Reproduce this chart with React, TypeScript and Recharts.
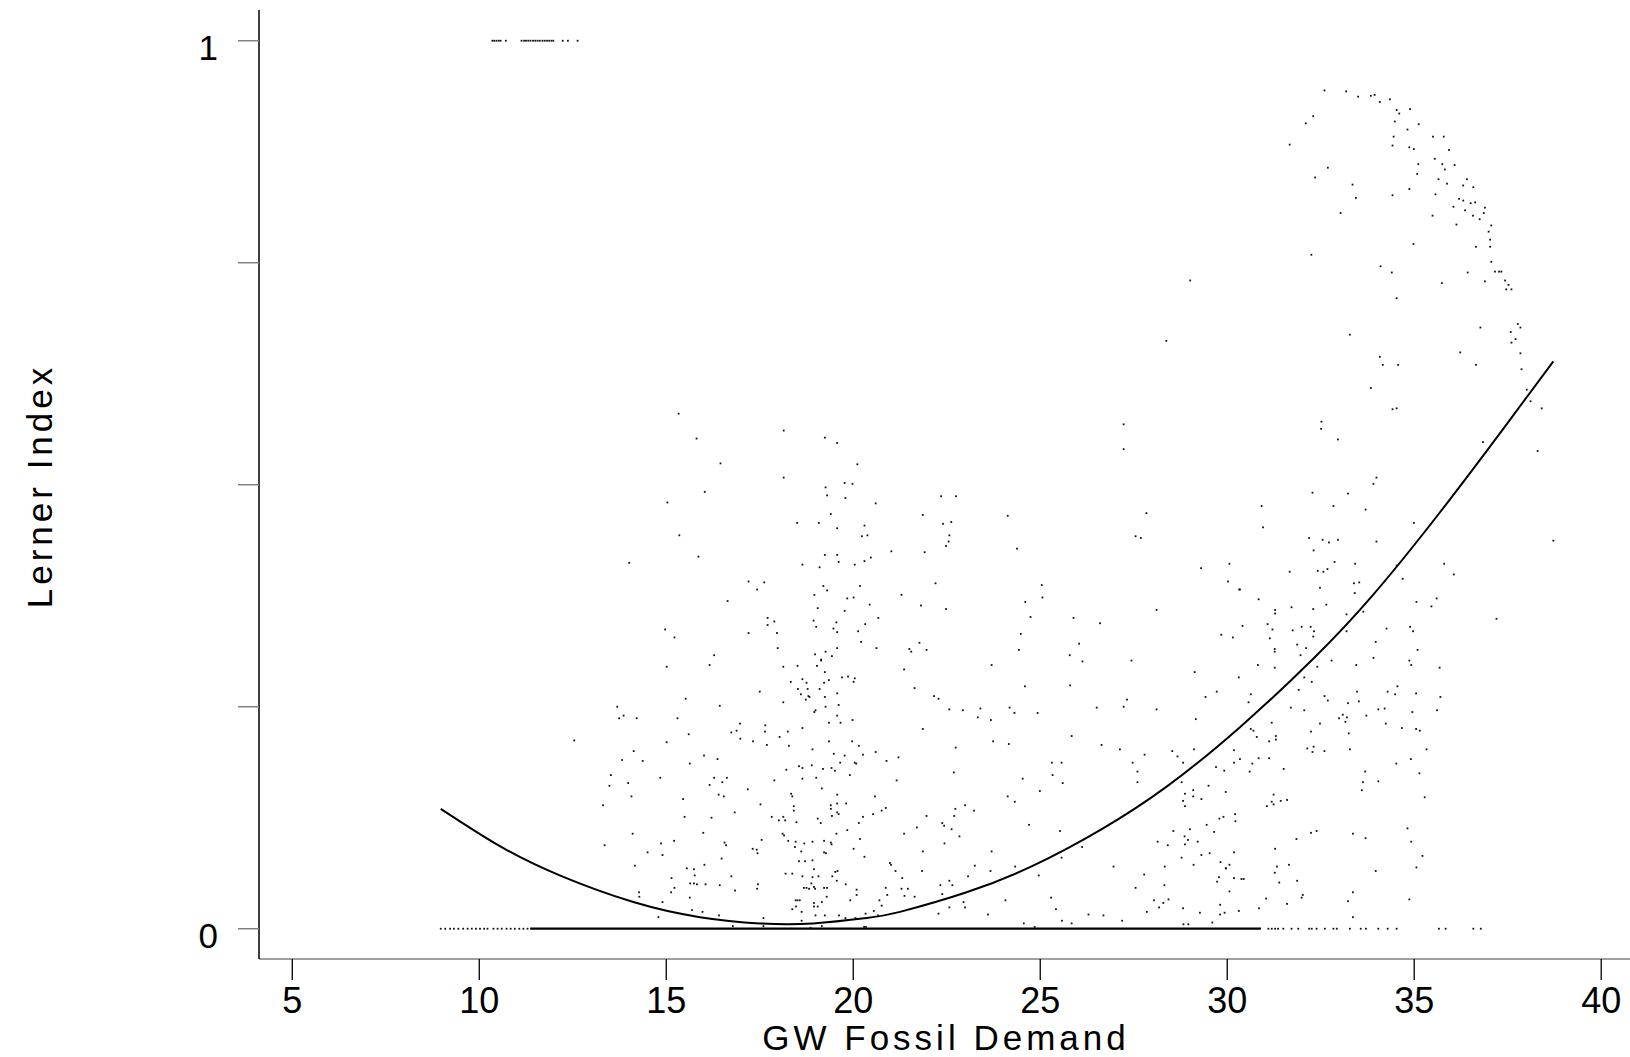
import { ComposedChart, Scatter, Line, XAxis, YAxis, Label } from 'recharts'

// tick values
const xTicks = [5, 10, 15, 20, 25, 30, 35, 40]
const yTicks = [0, 0.25, 0.5, 0.75, 1]
const yTickLabels: Record<string, string> = { '0': '0', '1': '1' }

// fitted quadratic
const fitCurve: [number, number][] = [
  [8.97, 0.135], [10.55, 0.093], [12.15, 0.06], [14.12, 0.03], [15.9, 0.013],
  [17.5, 0.006], [18.93, 0.006], [20.36, 0.012], [21.25, 0.019], [23.03, 0.041],
  [24.81, 0.071], [26.6, 0.111], [28.38, 0.16], [30.34, 0.227], [32.3, 0.304],
  [33.9, 0.376], [35.69, 0.469], [37.47, 0.568], [38.72, 0.639],
]

// dense run of observations sitting at 0
const zeroBand: [number, number][] = [[11.36, 0], [30.9, 0]]

// sparse observations at 0
const zeroRowX = [
  8.97, 9.09, 9.22, 9.32, 9.44, 9.57, 9.69, 9.8, 9.91, 10.02, 10.13, 10.22, 10.38, 10.49,
  10.6, 10.73, 10.84, 10.95, 11.07, 11.18, 11.29,
  31.1, 31.19, 31.28, 31.36, 31.5, 31.72, 31.9, 32.19, 32.26, 32.39, 32.61, 32.84, 32.93,
  33.28, 33.57, 33.71, 34.04, 34.29, 34.53, 35.66, 35.84, 36.58, 36.78,
]

// observations at 1
const oneRowX = [
  10.35, 10.4, 10.46, 10.52, 10.57, 10.71, 11.13, 11.2, 11.25, 11.31, 11.37, 11.44, 11.5,
  11.56, 11.62, 11.69, 11.75, 11.81, 11.87, 11.93, 11.98, 12.23, 12.37, 12.63,
]

const pointsTopRight: [number, number][] = [
  [32.6, 0.944], [33.18, 0.943], [33.5, 0.937], [33.84, 0.938], [33.94, 0.939], [34.08, 0.931],
  [34.35, 0.934], [34.53, 0.922], [34.6, 0.918], [34.89, 0.923], [32.3, 0.915], [32.1, 0.907],
  [31.67, 0.883], [34.48, 0.909], [35.12, 0.906], [34.82, 0.9], [35.5, 0.892], [35.79, 0.892],
  [34.45, 0.892], [34.42, 0.882], [34.87, 0.88], [34.99, 0.878], [35.93, 0.877], [32.69, 0.857],
  [32.35, 0.846], [35.55, 0.867], [35.11, 0.861], [35.08, 0.85], [35.75, 0.861], [35.82, 0.855],
  [36.08, 0.86], [35.65, 0.844], [35.88, 0.839], [36.41, 0.844], [36.31, 0.837], [36.58, 0.835],
  [33.35, 0.838], [33.44, 0.823], [34.42, 0.826], [34.87, 0.833], [35.57, 0.827], [33.03, 0.806],
  [35.49, 0.803], [36.2, 0.822], [36.31, 0.82], [36.51, 0.817], [36.63, 0.818], [36.89, 0.812],
  [36.86, 0.806], [36.05, 0.813], [36.36, 0.809], [36.57, 0.803], [36.75, 0.799], [36.13, 0.793],
  [37.06, 0.792], [36.99, 0.785], [37.03, 0.776], [36.65, 0.768], [37.03, 0.768], [32.25, 0.759],
  [34.98, 0.771], [34.1, 0.746], [34.4, 0.739], [35.74, 0.727], [36.43, 0.739], [36.89, 0.729],
  [37.06, 0.751], [37.16, 0.74], [37.27, 0.74], [37.33, 0.74], [37.43, 0.73], [37.52, 0.725],
  [37.46, 0.72], [37.6, 0.72], [34.53, 0.71], [33.28, 0.669], [34.08, 0.644], [36.23, 0.649],
  [36.77, 0.677], [37.77, 0.681], [37.84, 0.677], [37.58, 0.672], [37.71, 0.664], [37.6, 0.66],
  [37.84, 0.648], [29.01, 0.73], [28.37, 0.662],
]

const pointsUpperLeft: [number, number][] = [
  [15.33, 0.58], [15.81, 0.552], [16.45, 0.524], [16.03, 0.492], [15.03, 0.48], [15.35, 0.443],
  [15.86, 0.419], [14.01, 0.412], [18.14, 0.561], [18.14, 0.508], [19.24, 0.553], [19.57, 0.547],
  [20.11, 0.523], [19.77, 0.502], [19.98, 0.501], [19.26, 0.497], [19.3, 0.488], [19.79, 0.485],
  [20.6, 0.479], [19.4, 0.467], [18.5, 0.457], [19.08, 0.457], [19.57, 0.451], [20.3, 0.454],
  [20.23, 0.442], [20.38, 0.443], [21.02, 0.425], [19.24, 0.421], [19.57, 0.421], [19.61, 0.413],
  [20.3, 0.414], [20.47, 0.418], [18.64, 0.41], [19.1, 0.407], [20.04, 0.41], [17.2, 0.391],
  [17.62, 0.39], [17.43, 0.382], [16.64, 0.369], [19.2, 0.386], [19.3, 0.381], [20.18, 0.386],
  [18.96, 0.376], [19.84, 0.372], [20.01, 0.373], [19.05, 0.361], [19.77, 0.358], [20.44, 0.365],
  [20.67, 0.35], [17.71, 0.35], [17.89, 0.346], [17.71, 0.342], [18.94, 0.347], [19.01, 0.34],
  [19.55, 0.345], [20.32, 0.343], [19.47, 0.338], [19.57, 0.334], [20.13, 0.335], [17.2, 0.333],
  [17.96, 0.333], [14.97, 0.337], [15.22, 0.328], [20.21, 0.323], [17.98, 0.316], [19.57, 0.316],
  [20.62, 0.316], [16.28, 0.308], [18.98, 0.309], [19.26, 0.312], [19.43, 0.307], [19.14, 0.303],
]

const pointsUpperMid: [number, number][] = [
  [27.23, 0.568], [27.23, 0.54], [22.35, 0.487], [22.75, 0.487], [21.86, 0.466], [22.4, 0.456],
  [22.62, 0.458], [24.13, 0.465], [22.57, 0.443], [22.55, 0.436], [22.48, 0.431], [21.91, 0.424],
  [24.38, 0.428], [27.84, 0.468], [27.55, 0.442], [27.69, 0.44], [29.3, 0.406], [30.06, 0.411],
  [30.02, 0.391], [30.32, 0.382], [22.2, 0.389], [21.29, 0.376], [21.81, 0.364], [22.48, 0.36],
  [25.04, 0.387], [25.06, 0.373], [24.6, 0.368], [24.74, 0.351], [25.89, 0.35], [26.6, 0.344],
  [28.11, 0.359], [24.48, 0.332], [26.04, 0.321], [24.43, 0.314], [25.79, 0.308], [21.77, 0.322],
  [21.5, 0.315], [21.55, 0.312], [21.96, 0.314], [29.84, 0.331], [30.15, 0.328],
]

const pointsUpperRight: [number, number][] = [
  [34.16, 0.635], [34.57, 0.635], [36.65, 0.635], [37.87, 0.63], [33.84, 0.609], [38.01, 0.607],
  [38.11, 0.594], [38.41, 0.586], [34.42, 0.585], [34.53, 0.586], [32.52, 0.571], [32.51, 0.563],
  [32.96, 0.551], [36.84, 0.548], [38.3, 0.538], [33.99, 0.508], [33.91, 0.501], [32.28, 0.491],
  [33.23, 0.49], [30.92, 0.476], [32.84, 0.476], [33.7, 0.472], [30.96, 0.452], [34.99, 0.457],
  [32.19, 0.44], [32.55, 0.438], [32.72, 0.435], [32.96, 0.438], [33.99, 0.436], [38.72, 0.437],
  [32.31, 0.426], [31.67, 0.402], [32.42, 0.403], [32.57, 0.402], [32.68, 0.405], [32.87, 0.413],
  [33.42, 0.411], [34.53, 0.409], [35.8, 0.411], [36.06, 0.399], [34.69, 0.394], [33.39, 0.389],
  [33.53, 0.39], [32.48, 0.384], [33.41, 0.378], [30.34, 0.382], [30.84, 0.371], [31.72, 0.362],
  [32.3, 0.36], [32.65, 0.365], [31.28, 0.359], [31.28, 0.355], [35.06, 0.368], [35.6, 0.372],
  [35.46, 0.363], [30.41, 0.341], [31.08, 0.343], [31.21, 0.337], [31.75, 0.336], [31.99, 0.34],
  [32.23, 0.34], [32.32, 0.335], [32.3, 0.329], [31.14, 0.327], [33.19, 0.335], [34.26, 0.338],
  [34.89, 0.34], [34.97, 0.335], [37.2, 0.349], [33.19, 0.354], [33.64, 0.357], [33.97, 0.323],
  [35.09, 0.314], [31.87, 0.32], [32.11, 0.316], [31.27, 0.315], [31.27, 0.312], [31.96, 0.308],
  [33.91, 0.305],
]

const pointsLowerLeft: [number, number][] = [
  [15.01, 0.295], [16.16, 0.297], [18.13, 0.295], [18.51, 0.296], [19.03, 0.296], [19.14, 0.302],
  [19.24, 0.289], [19.35, 0.28], [19.7, 0.283], [19.86, 0.284], [20.04, 0.282], [20.01, 0.278],
  [18.33, 0.278], [18.64, 0.281], [18.75, 0.277], [18.52, 0.27], [18.78, 0.27], [18.6, 0.264],
  [18.8, 0.262], [18.83, 0.261], [18.73, 0.258], [19.1, 0.27], [19.22, 0.277], [17.5, 0.267],
  [15.52, 0.259], [16.43, 0.251], [18.13, 0.255], [19.24, 0.261], [19.57, 0.265], [13.69, 0.25],
  [13.74, 0.237], [13.86, 0.24], [14.21, 0.237], [15.3, 0.237], [18.99, 0.246], [18.96, 0.244],
  [19.26, 0.25], [19.61, 0.252], [19.57, 0.24], [19.98, 0.235], [19.35, 0.232], [19.66, 0.232],
  [12.54, 0.212], [15.01, 0.21], [15.6, 0.219], [16.74, 0.221], [16.88, 0.223], [16.97, 0.231],
  [16.98, 0.214], [17.32, 0.211], [17.65, 0.229], [17.64, 0.222], [17.69, 0.207], [18.03, 0.216],
  [18.25, 0.222], [18.28, 0.206], [18.64, 0.226], [19.35, 0.211], [19.97, 0.211], [20.15, 0.206],
  [14.13, 0.2], [13.82, 0.19], [14.37, 0.189], [15.63, 0.186], [16.01, 0.195], [16.37, 0.191],
  [18.91, 0.202], [19.48, 0.197], [19.77, 0.195], [19.65, 0.187], [20.04, 0.187], [20.08, 0.186],
  [20.26, 0.196], [20.6, 0.199], [20.89, 0.189], [21.21, 0.193], [18.55, 0.183], [18.64, 0.181],
  [18.89, 0.184], [19.19, 0.18], [19.42, 0.181], [19.51, 0.178], [18.21, 0.179], [18.64, 0.169],
  [19.01, 0.17], [19.91, 0.173], [13.52, 0.173], [13.48, 0.161], [13.98, 0.164], [14.84, 0.17],
  [16.28, 0.17], [16.5, 0.165], [16.62, 0.17], [16.16, 0.162], [17.89, 0.167], [17.18, 0.157],
  [16.4, 0.151], [16.54, 0.149], [14.07, 0.149], [13.31, 0.139], [15.45, 0.146], [15.49, 0.126],
  [16.21, 0.125], [16.83, 0.131], [17.52, 0.14], [18.34, 0.152], [18.37, 0.149], [18.41, 0.138],
  [18.41, 0.133], [19.16, 0.158], [19.57, 0.151], [19.4, 0.139], [19.4, 0.135], [19.57, 0.141],
  [19.81, 0.141], [19.57, 0.131], [19.61, 0.129], [19.43, 0.127], [19.05, 0.124], [19.13, 0.119],
  [18.48, 0.12], [17.82, 0.126], [18.01, 0.122], [18.13, 0.126], [18.18, 0.122], [20.15, 0.119],
  [20.26, 0.126], [20.58, 0.149], [20.53, 0.129], [20.76, 0.133], [20.87, 0.136], [21.16, 0.167],
  [14.1, 0.107], [13.35, 0.094], [14.5, 0.086], [14.86, 0.096], [14.9, 0.083], [15.21, 0.099],
  [15.99, 0.108], [16.56, 0.097], [16.6, 0.094], [16.48, 0.079], [17.31, 0.09], [17.42, 0.089],
  [17.44, 0.085], [17.55, 0.1], [18.11, 0.107], [18.15, 0.105], [18.26, 0.099], [18.46, 0.098],
  [18.44, 0.092], [18.69, 0.096], [18.61, 0.087], [18.91, 0.098], [19.22, 0.099], [19.4, 0.097],
  [19.42, 0.095], [19.22, 0.086], [19.27, 0.085], [19.55, 0.107], [19.84, 0.111], [20.18, 0.101],
  [20.01, 0.09], [20.3, 0.081], [14.16, 0.071], [16.02, 0.072], [18.55, 0.076], [18.71, 0.076],
  [18.91, 0.077], [20.98, 0.074], [21.01, 0.072], [21.13, 0.065], [15.55, 0.068], [15.74, 0.067],
  [15.76, 0.06], [15.14, 0.057], [15.22, 0.046], [15.13, 0.041], [15.64, 0.051], [15.74, 0.051],
  [15.82, 0.05], [16.05, 0.05], [16.43, 0.049], [16.74, 0.059], [16.84, 0.043], [17.45, 0.05],
  [17.43, 0.045], [18.19, 0.062], [18.37, 0.062], [18.64, 0.059], [18.91, 0.058], [18.95, 0.067],
  [19.07, 0.059], [19.44, 0.059], [19.52, 0.064], [19.58, 0.065], [19.56, 0.054], [18.68, 0.046],
  [18.75, 0.046], [18.82, 0.045], [18.88, 0.051], [18.95, 0.047], [18.98, 0.045], [19.22, 0.046],
  [19.3, 0.046], [19.8, 0.05], [20.09, 0.044], [20.09, 0.038], [20.87, 0.046], [20.91, 0.038],
  [14.27, 0.041], [14.28, 0.036], [15.63, 0.035], [14.9, 0.03], [18.46, 0.032], [18.51, 0.032],
  [18.57, 0.032], [18.37, 0.022], [18.47, 0.025], [18.62, 0.019], [18.95, 0.029], [18.95, 0.025],
  [19.05, 0.025], [19.16, 0.03], [19.29, 0.036], [19.92, 0.032], [20.7, 0.032], [20.76, 0.026],
  [15.69, 0.021], [15.97, 0.019], [14.79, 0.013], [16.41, 0.015], [17.6, 0.012], [18.62, 0.009],
  [18.99, 0.015], [19.24, 0.015], [19.62, 0.015], [19.79, 0.012], [20.06, 0.012], [20.33, 0.017],
  [20.55, 0.02], [20.66, 0.015], [16.78, 0.003], [17.6, 0.003], [18.86, 0.001], [19.16, 0.003],
  [20.29, 0.002], [20.34, 0.002],
]

const pointsLowerMid: [number, number][] = [
  [21.36, 0.292], [23.7, 0.297], [26.13, 0.301], [27.44, 0.302], [29.13, 0.289], [30.31, 0.283],
  [21.64, 0.271], [22.16, 0.262], [22.28, 0.259], [22.57, 0.247], [22.93, 0.246], [23.4, 0.248],
  [23.33, 0.238], [23.68, 0.235], [24.18, 0.249], [24.31, 0.243], [24.59, 0.273], [24.93, 0.243],
  [25.8, 0.274], [26.51, 0.249], [27.32, 0.258], [27.23, 0.25], [28.11, 0.247], [29.42, 0.261],
  [29.72, 0.267], [29.16, 0.236], [21.86, 0.225], [22.74, 0.204], [23.74, 0.211], [24.16, 0.208],
  [25.84, 0.217], [26.64, 0.207], [27.13, 0.202], [27.79, 0.196], [28.53, 0.2], [28.67, 0.194],
  [28.82, 0.187], [29.11, 0.202], [29.7, 0.182], [29.92, 0.178], [30.18, 0.201], [30.18, 0.187],
  [22.69, 0.176], [24.53, 0.169], [25.31, 0.187], [25.57, 0.187], [25.33, 0.173], [25.6, 0.164],
  [27.47, 0.187], [27.6, 0.177], [27.6, 0.165], [24.99, 0.155], [24.13, 0.149], [24.32, 0.143],
  [28.78, 0.165], [28.82, 0.144], [28.87, 0.152], [29.09, 0.156], [29.09, 0.149], [29.31, 0.146],
  [29.5, 0.161], [29.96, 0.154], [28.87, 0.138], [22.73, 0.135], [22.99, 0.139], [23.23, 0.133],
  [21.96, 0.127], [22.7, 0.127], [22.38, 0.119], [22.43, 0.116], [22.63, 0.112], [21.7, 0.114],
  [21.36, 0.107], [22.84, 0.104], [24.7, 0.117], [25.53, 0.11], [28.56, 0.11], [29.0, 0.112],
  [29.45, 0.117], [29.65, 0.109], [29.79, 0.124], [29.9, 0.126], [30.21, 0.129], [30.22, 0.121],
  [22.44, 0.096], [21.86, 0.087], [23.7, 0.087], [26.12, 0.092], [28.14, 0.098], [28.41, 0.094],
  [28.78, 0.08], [28.87, 0.095], [28.95, 0.1], [29.21, 0.098], [28.86, 0.104], [29.1, 0.072],
  [29.31, 0.083], [29.53, 0.085], [29.82, 0.075], [29.97, 0.068], [30.06, 0.072], [30.18, 0.086],
  [21.84, 0.065], [23.25, 0.071], [23.67, 0.065], [24.33, 0.07], [25.57, 0.08], [26.96, 0.07],
  [24.96, 0.06], [23.07, 0.059], [21.31, 0.057], [22.57, 0.054], [22.65, 0.049], [22.33, 0.049],
  [22.38, 0.039], [21.29, 0.045], [21.46, 0.045], [21.37, 0.037], [21.64, 0.036], [22.95, 0.03],
  [22.99, 0.024], [22.57, 0.024], [22.28, 0.017], [23.6, 0.016], [24.07, 0.032], [25.29, 0.035],
  [25.42, 0.022], [25.58, 0.009], [25.84, 0.006], [26.29, 0.016], [26.69, 0.015], [27.19, 0.009],
  [27.55, 0.046], [27.78, 0.061], [27.85, 0.019], [28.04, 0.032], [28.18, 0.024], [28.29, 0.029],
  [28.43, 0.033], [28.33, 0.07], [28.32, 0.049], [28.82, 0.023], [29.27, 0.018], [29.6, 0.007],
  [29.78, 0.058], [29.73, 0.053], [29.96, 0.068], [30.18, 0.057], [30.06, 0.042], [29.81, 0.027],
  [29.81, 0.016], [29.93, 0.018], [30.31, 0.02], [28.83, 0.005], [28.96, 0.005], [24.56, 0.006],
  [24.85, 0.002],
]

const pointsLowerRight: [number, number][] = [
  [30.82, 0.297], [31.27, 0.294], [32.79, 0.302], [33.45, 0.297], [34.87, 0.302], [34.92, 0.297],
  [35.68, 0.294], [32.41, 0.295], [32.06, 0.283], [32.26, 0.278], [31.91, 0.269], [30.63, 0.264],
  [30.57, 0.255], [31.7, 0.249], [32.06, 0.246], [32.6, 0.262], [32.69, 0.257], [33.47, 0.267],
  [33.52, 0.256], [33.23, 0.254], [33.72, 0.24], [32.99, 0.237], [33.09, 0.241], [33.2, 0.238],
  [33.16, 0.233], [32.48, 0.231], [32.24, 0.222], [33.25, 0.22], [34.29, 0.267], [34.49, 0.264],
  [34.55, 0.273], [35.05, 0.265], [34.04, 0.247], [34.21, 0.248], [34.24, 0.231], [34.95, 0.244],
  [35.61, 0.246], [35.7, 0.261], [34.67, 0.226], [35.05, 0.225], [35.15, 0.223], [31.19, 0.232],
  [30.63, 0.225], [30.7, 0.223], [30.79, 0.216], [31.12, 0.211], [31.3, 0.217], [31.3, 0.213],
  [32.14, 0.203], [32.31, 0.205], [32.28, 0.199], [32.6, 0.2], [33.28, 0.202], [30.34, 0.191],
  [30.84, 0.192], [31.12, 0.192], [30.67, 0.186], [30.6, 0.177], [31.51, 0.18], [35.33, 0.202],
  [34.91, 0.191], [34.52, 0.186], [35.14, 0.175], [33.69, 0.177], [33.63, 0.165], [33.6, 0.156],
  [34.04, 0.166], [35.28, 0.148], [31.24, 0.151], [31.19, 0.143], [31.24, 0.14], [31.06, 0.138],
  [31.43, 0.144], [31.6, 0.145], [32.24, 0.108], [32.39, 0.11], [31.85, 0.101], [33.36, 0.107],
  [33.7, 0.102], [34.82, 0.113], [34.92, 0.098], [35.22, 0.082], [35.06, 0.069], [33.97, 0.065],
  [31.28, 0.09], [31.65, 0.072], [31.33, 0.07], [31.27, 0.063], [31.39, 0.052], [31.87, 0.054],
  [30.38, 0.056], [30.44, 0.056], [31.04, 0.034], [30.85, 0.023], [31.6, 0.028], [32.02, 0.038],
  [31.99, 0.035], [33.36, 0.041], [33.23, 0.031], [33.36, 0.013], [34.87, 0.033],
]

const scatterPoints = [
  ...pointsTopRight,
  ...pointsUpperLeft,
  ...pointsUpperMid,
  ...pointsUpperRight,
  ...pointsLowerLeft,
  ...pointsLowerMid,
  ...pointsLowerRight,
  ...zeroRowX.map((x) => [x, 0] as [number, number]),
  ...oneRowX.map((x) => [x, 1] as [number, number]),
].map(([x, y]) => ({ x, y }))

const curveData = fitCurve.map(([x, y]) => ({ x, y }))
const bandData = zeroBand.map(([x, y]) => ({ x, y }))

const FONT = '"Liberation Sans", Arial, sans-serif'

const Dot = (props: any) => {
  const { cx, cy } = props
  if (cx == null || cy == null) return null
  return <rect x={cx - 0.9} y={cy - 0.9} width={1.8} height={1.8} fill="#111" />
}

const XTick = ({ x, y, payload }: any) => (
  <g>
    <line x1={x} x2={x} y1={y} y2={y + 21} stroke="#000" strokeWidth={1.3} />
    <text x={x} y={y + 54} textAnchor="middle" fontSize={36} fontFamily={FONT} fill="#000">
      {payload.value}
    </text>
  </g>
)

const YTick = ({ x, y, payload }: any) => {
  const label = yTickLabels[String(payload.value)]
  return (
    <g>
      <line x1={x - 21} x2={x} y1={y} y2={y} stroke="#808080" strokeWidth={1.5} />
      {label && (
        <text x={x - 41} y={y + 19} textAnchor="end" fontSize={35} fontFamily={FONT} fill="#000">
          {label}
        </text>
      )}
    </g>
  )
}

export default function App() {
  return (
    <div style={{ position: 'absolute', left: 0, top: 0, width: 1630, height: 1057, background: '#fff' }}>
      <ComposedChart width={1630} height={1057} margin={{ top: 10, right: 0, bottom: 0, left: 0 }}>
        <XAxis
          type="number"
          dataKey="x"
          domain={[4.11, 40.77]}
          ticks={xTicks}
          allowDataOverflow
          height={98}
          tickSize={0}
          tickMargin={0}
          tickLine={false}
          axisLine={{ stroke: '#808080', strokeWidth: 1.5 }}
          tick={<XTick />}
          interval={0}
        >
          <Label
            content={() => (
              <text x={946} y={1050} textAnchor="middle" fontSize={35} letterSpacing={4} fontFamily={FONT} fill="#000">
                GW Fossil Demand
              </text>
            )}
          />
        </XAxis>
        <YAxis
          type="number"
          dataKey="y"
          domain={[-0.0341, 1.0346]}
          ticks={yTicks}
          allowDataOverflow
          width={259}
          tickSize={0}
          tickMargin={0}
          tickLine={false}
          axisLine={{ stroke: '#000', strokeWidth: 1.5 }}
          tick={<YTick />}
          interval={0}
        >
          <Label
            content={() => (
              <text
                x={52}
                y={486}
                transform="rotate(-90, 52, 486)"
                textAnchor="middle"
                fontSize={35}
                letterSpacing={4}
                fontFamily={FONT}
                fill="#000"
              >
                Lerner Index
              </text>
            )}
          />
        </YAxis>
        <Line
          data={bandData}
          dataKey="y"
          type="linear"
          stroke="#000"
          strokeWidth={2.3}
          dot={false}
          isAnimationActive={false}
        />
        <Scatter data={scatterPoints} dataKey="y" shape={<Dot />} isAnimationActive={false} />
        <Line
          data={curveData}
          dataKey="y"
          type="natural"
          stroke="#000"
          strokeWidth={2}
          dot={false}
          isAnimationActive={false}
        />
      </ComposedChart>
    </div>
  )
}
